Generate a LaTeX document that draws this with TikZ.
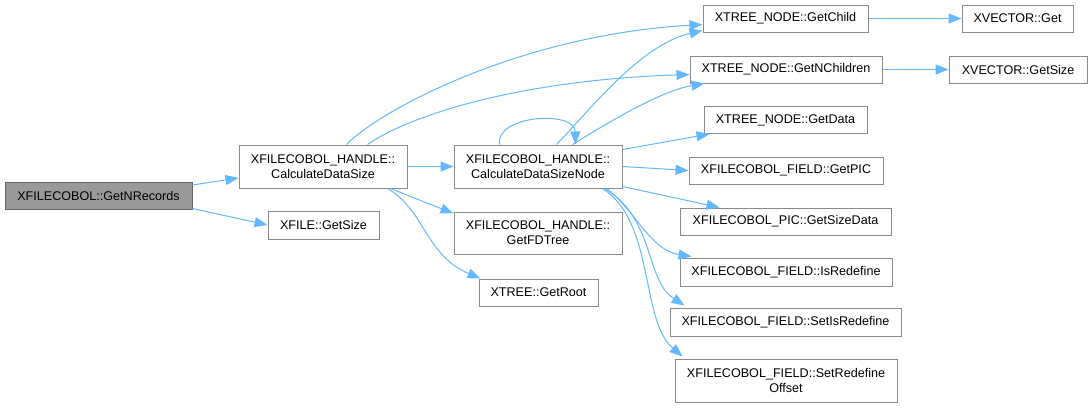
\documentclass[tikz,border=0pt]{standalone}
\usepackage{fontspec}
\setmainfont{Liberation Sans}
\usetikzlibrary{arrows.meta,calc}
\definecolor{edgec}{HTML}{63B8FF}
\definecolor{boxb}{HTML}{8A8A8A}
\definecolor{rootf}{HTML}{999999}
\definecolor{rootb}{HTML}{666666}
\tikzset{
  box/.style={draw=boxb, line width=1pt, fill=white, inner sep=0pt, align=center,
    font=\fontsize{12.6}{15}\selectfont, text=black},
  edge/.style={draw=edgec, line width=1pt, -{Triangle[length=13pt,width=10pt]}},
}
\begin{document}
\begin{tikzpicture}[x=1pt,y=-1pt]
\useasboundingbox (0,0) rectangle (1091,408);
% nodes
\node[box, fill=rootf, draw=rootb, minimum width=187pt, minimum height=27pt] (gn) at (98.5,195.5) {XFILECOBOL::GetNRecords};
\node[box, minimum width=168pt, minimum height=43pt] (cds) at (323,166.5) {XFILECOBOL\_HANDLE::\\CalculateDataSize};
\node[box, minimum width=111pt, minimum height=28pt] (xs) at (323.5,225) {XFILE::GetSize};
\node[box, minimum width=168pt, minimum height=43pt] (cdsn) at (538,166.5) {XFILECOBOL\_HANDLE::\\CalculateDataSizeNode};
\node[box, minimum width=168pt, minimum height=42pt] (fd) at (538,233) {XFILECOBOL\_HANDLE::\\GetFDTree};
\node[box, minimum width=119pt, minimum height=27pt] (gr) at (538.5,292.5) {XTREE::GetRoot};
\node[box, minimum width=165pt, minimum height=27pt] (gc) at (785.5,18.5) {XTREE\_NODE::GetChild};
\node[box, minimum width=192pt, minimum height=27pt] (gnc) at (786,69.5) {XTREE\_NODE::GetNChildren};
\node[box, minimum width=163pt, minimum height=27pt] (gd) at (785.5,120) {XTREE\_NODE::GetData};
\node[box, minimum width=194pt, minimum height=27pt] (gp) at (786,170.5) {XFILECOBOL\_FIELD::GetPIC};
\node[box, minimum width=211pt, minimum height=27pt] (gsd) at (785.5,221.5) {XFILECOBOL\_PIC::GetSizeData};
\node[box, minimum width=212pt, minimum height=28pt] (ir) at (786,272) {XFILECOBOL\_FIELD::IsRedefine};
\node[box, minimum width=231pt, minimum height=28pt] (sir) at (785.5,322) {XFILECOBOL\_FIELD::SetIsRedefine};
\node[box, minimum width=222pt, minimum height=43pt] (sro) at (786,380.5) {XFILECOBOL\_FIELD::SetRedefine\\Offset};
\node[box, minimum width=111pt, minimum height=27pt] (xg) at (1017.5,18.5) {XVECTOR::Get};
\node[box, minimum width=138pt, minimum height=27pt] (xgs) at (1018,69.5) {XVECTOR::GetSize};
% edges
\draw[edge] ($(gn.north east)+(0,3.5)$) -- ($(cds.south west)+(0,-10.5)$);
\draw[edge] ($(gn.south east)+(0,-1)$) -- (xs.west);
\draw[edge] ($(cds.north west)+(108,0)$) .. controls (380,110) and (520,35) .. ($(gc.south west)+(0,-8)$);
\draw[edge] ($(cds.north west)+(129,0)$) .. controls (410,115) and (520,80) .. ($(gnc.west)+(0,5)$);
\draw[edge] (cds.east) -- (cdsn.west);
\draw[edge] ($(cds.south east)+(-17,0)$) -- ($(fd.north west)+(0,2)$);
\draw[edge] ($(cds.south east)+(-20,0)$) .. controls (425,210) and (425,255) .. ($(gr.north west)+(2,0)$);
\draw[edge] ($(cdsn.north west)+(46,0)$) .. controls (495,115) and (575,110) .. ($(cdsn.north west)+(122,0)$);
\draw[edge] ($(cdsn.north west)+(103,0)$) .. controls (590,110) and (640,45) .. ($(gc.south west)+(0,-2)$);
\draw[edge] ($(cdsn.north west)+(119,0)$) .. controls (620,115) and (665,90) .. ($(gnc.south west)+(15,0)$);
\draw[edge] ($(cdsn.north east)+(0,5)$) -- ($(gd.south west)+(6,0)$);
\draw[edge] (cdsn.east) -- (gp.west);
\draw[edge] ($(cdsn.south east)+(0,-2)$) -- ($(gsd.north west)+(40,0)$);
\draw[edge] ($(cdsn.south east)+(-16,0)$) .. controls (635,210) and (650,250) .. ($(ir.north west)+(12,-1)$);
\draw[edge] ($(cdsn.south east)+(-18,0)$) .. controls (655,218) and (645,280) .. ($(sir.north west)+(15,-2)$);
\draw[edge] ($(cdsn.south east)+(-20,0)$) .. controls (655,222) and (640,320) .. ($(sro.north west)+(8,-2)$);
\draw[edge] (gc.east) -- (xg.west);
\draw[edge] (gnc.east) -- (xgs.west);
\end{tikzpicture}
\end{document}
